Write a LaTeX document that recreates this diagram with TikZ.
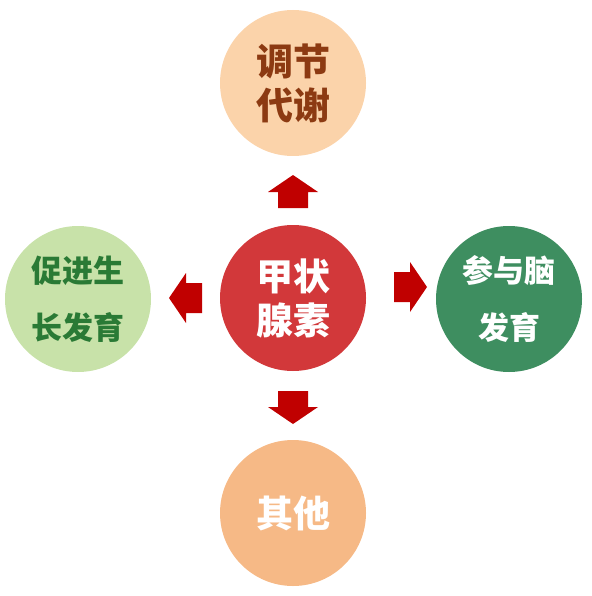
\documentclass[tikz,border=0pt]{standalone}
\usepackage{fontspec}
\newfontfamily\cjk{Noto Sans CJK SC}[BoldFont={Noto Sans CJK SC Black}]
\definecolor{hormone}{HTML}{D2383A}
\definecolor{peach}{HTML}{FBD3AA}
\definecolor{brownt}{HTML}{8C3A12}
\definecolor{lightgreen}{HTML}{C8E2A9}
\definecolor{darkgreen}{HTML}{2A7A35}
\definecolor{brain}{HTML}{3E8E60}
\definecolor{orange}{HTML}{F6B986}
\definecolor{arrowred}{HTML}{C00000}
\tikzset{
  ball/.style={circle,minimum size=146pt,inner sep=0pt,align=center,
    font=\cjk\bfseries\fontsize{37}{44}\selectfont},
  ballsmall/.style={ball,font=\cjk\bfseries\fontsize{31}{57}\selectfont},
  blockarrow/.style={fill=arrowred,draw=none}
}
\begin{document}
\begin{tikzpicture}[x=1pt,y=1pt]
        \useasboundingbox (0,0) rectangle (591,-596);
        \node[ball,fill=hormone,text=white] (thyroid) at (293,-298) {甲状\\腺素};
        \node[ball,fill=peach,text=brownt] (meta) at (293,-83) {调节\\代谢};
        \node[ballsmall,fill=lightgreen,text=darkgreen] (grow) at (78,-299) {促进生\\长发育};
        \node[ballsmall,fill=brain,text=white] (brain) at (509,-299) {参与脑\\发育};
        \node[ball,fill=orange,text=white] (other) at (293,-513) {其他};
        % block arrows: head base position and direction
        \foreach \ang/\px/\py in {90/293/192, 180/186/298, 0/410/287, 270/293/407}
            \fill[blockarrow,shift={(\px,-\py)},rotate=\ang]
                (-16,-15) -- (0,-15) -- (0,-25) -- (17,0) -- (0,25) -- (0,15) -- (-16,15) -- cycle;
    \end{tikzpicture}
\end{document}
